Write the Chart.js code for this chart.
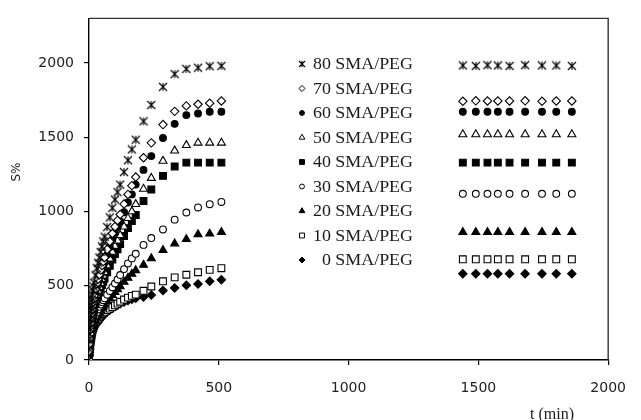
<!DOCTYPE html>
<html>
<head>
<meta charset="utf-8">
<script src="https://cdn.jsdelivr.net/npm/chart.js@4.4.1/dist/chart.umd.min.js"></script>
<style>
  html, body { margin: 0; padding: 0; background: #fff; }
</style>
</head>
<body>
<canvas id="chart" width="641" height="420"></canvas>
<script>
// ── Data ───────────────────────────────────────────────────────────────────
const seriesNames = ['80 SMA/PEG', '70 SMA/PEG', '60 SMA/PEG', '50 SMA/PEG', '40 SMA/PEG',
                     '30 SMA/PEG', '20 SMA/PEG', '10 SMA/PEG', '0 SMA/PEG'];

// early swelling times (min)
const times = [0, 1, 2, 3, 4, 5, 6, 7, 8, 9, 10, 12, 14, 16, 18, 20, 25, 30, 35, 40, 45, 50, 55, 60,
               70, 80, 90, 100, 110, 120, 135, 150, 165, 180, 210, 240, 285, 330, 375, 420, 465, 510];
// equilibrium times (min)
const longTimes = [1440, 1490, 1535, 1575, 1620, 1680, 1745, 1800, 1860];

const s80 = [0, 75, 130, 175, 212, 245, 275, 302, 328, 350, 372, 408, 440, 468, 495, 520, 570, 618, 655, 690, 728, 765, 798, 830,
             895, 960, 1024, 1080, 1130, 1181, 1265, 1345, 1418, 1483, 1607, 1717, 1839, 1925, 1960, 1968, 1978, 1980];
const s70 = [0, 62, 108, 145, 176, 203, 228, 250, 272, 290, 310, 338, 365, 388, 411, 432, 475, 514, 544, 574, 605, 636, 663, 690,
             745, 798, 852, 898, 940, 980, 1050, 1115, 1174, 1232, 1362, 1462, 1585, 1674, 1711, 1722, 1729, 1744];
const s60 = [0, 60, 103, 138, 168, 194, 218, 240, 260, 277, 295, 322, 348, 370, 392, 412, 452, 488, 518, 545, 575, 605, 630, 656,
             708, 760, 810, 853, 895, 935, 995, 1060, 1115, 1181, 1280, 1373, 1495, 1590, 1649, 1660, 1671, 1671];
const s50 = [0, 53, 92, 124, 150, 174, 195, 214, 233, 249, 264, 290, 312, 332, 351, 369, 405, 439, 465, 490, 517, 543, 567, 590,
             636, 682, 727, 767, 803, 840, 898, 955, 1000, 1049, 1152, 1225, 1340, 1409, 1446, 1462, 1462, 1462];
const s40 = [0, 50, 86, 116, 140, 162, 181, 199, 216, 231, 246, 269, 290, 309, 327, 343, 376, 408, 432, 456, 480, 505, 527, 548,
             591, 634, 676, 713, 746, 780, 835, 888, 935, 976, 1071, 1148, 1240, 1303, 1329, 1329, 1329, 1329];
const s30 = [0, 45, 74, 97, 117, 134, 149, 163, 176, 188, 199, 219, 237, 253, 267, 280, 300, 320, 340, 358, 374, 390, 403, 415,
             440, 465, 490, 515, 542, 572, 612, 650, 684, 715, 775, 821, 879, 945, 993, 1027, 1049, 1064];
const s20 = [0, 42, 70, 92, 110, 125, 138, 150, 161, 171, 180, 196, 210, 222, 233, 243, 265, 285, 303, 319, 334, 348, 361, 373,
             395, 415, 436, 456, 476, 496, 526, 553, 580, 604, 640, 684, 740, 784, 813, 846, 850, 861];
const s10 = [0, 48, 80, 104, 122, 137, 150, 161, 171, 180, 188, 202, 214, 225, 235, 241, 254, 267, 279, 290, 300, 309, 317, 324,
             336, 346, 356, 368, 380, 392, 407, 420, 432, 440, 466, 495, 530, 556, 574, 591, 607, 618];
const s0  = [0, 50, 80, 102, 120, 134, 146, 156, 165, 172, 178, 190, 200, 209, 217, 224, 236, 246, 258, 270, 281, 291, 300, 308,
             323, 337, 349, 360, 370, 379, 390, 400, 409, 416, 424, 437, 468, 485, 503, 512, 530, 541];

const l80 = [1983, 1980, 1985, 1983, 1980, 1985, 1983, 1983, 1980];
const l70 = [1742, 1745, 1744, 1744, 1744, 1745, 1742, 1744, 1744];
const l60 = [1671, 1671, 1671, 1671, 1671, 1671, 1671, 1671, 1671];
const l50 = [1519, 1519, 1519, 1519, 1519, 1519, 1519, 1519, 1519];
const l40 = [1329, 1329, 1329, 1329, 1329, 1329, 1329, 1329, 1329];
const l30 = [1119, 1119, 1119, 1119, 1119, 1119, 1119, 1119, 1119];
const l20 = [861, 861, 861, 861, 861, 861, 861, 861, 861];
const l10 = [678, 678, 678, 678, 678, 678, 678, 678, 678];
const l0  = [581, 581, 581, 581, 581, 581, 581, 581, 581];

const earlyValues = [s80, s70, s60, s50, s40, s30, s20, s10, s0];
const longValues  = [l80, l70, l60, l50, l40, l30, l20, l10, l0];

const xTickValues = [0, 500, 1000, 1500, 2000];
const yTickValues = [0, 500, 1000, 1500, 2000];

// ── Marker styles ──────────────────────────────────────────────────────────
function makeStar(r) {
  const c = document.createElement('canvas');
  const s = Math.ceil(2 * r + 2);
  c.width = c.height = s;
  const g = c.getContext('2d');
  const m = s / 2;
  g.strokeStyle = '#000';
  g.lineWidth = 1.1;
  g.beginPath();
  g.moveTo(m - r, m - r); g.lineTo(m + r, m + r);
  g.moveTo(m + r, m - r); g.lineTo(m - r, m + r);
  g.moveTo(m, m - r);     g.lineTo(m, m + r);
  g.stroke();
  return c;
}

const MARKERS = [
  { style: makeStar(4),  legendStyle: makeStar(3), radius: 4,   filled: false },
  { style: 'rectRot',    radius: 4.2, filled: false },
  { style: 'circle',     radius: 3.4, filled: true  },
  { style: 'triangle',   radius: 4.6, filled: false },
  { style: 'rect',       radius: 4.8, filled: true  },
  { style: 'circle',     radius: 3.4, filled: false },
  { style: 'triangle',   radius: 4.6, filled: true  },
  { style: 'rect',       radius: 4.8, filled: false },
  { style: 'rectRot',    radius: 4.2, filled: true  },
];

// ── Datasets ───────────────────────────────────────────────────────────────
const datasets = seriesNames.map((name, i) => {
  const m = MARKERS[i];
  const pts = times.map((t, k) => ({ x: t, y: earlyValues[i][k] }))
    .concat(longTimes.map((t, k) => ({ x: t, y: longValues[i][k] })));
  return {
    label: name,
    data: pts,
    showLine: false,
    pointStyle: m.style,
    pointRadius: m.radius,
    pointBackgroundColor: m.filled ? '#000' : '#fff',
    pointBorderColor: '#000',
    pointBorderWidth: 1.1,
  };
});

// ── Plugins ────────────────────────────────────────────────────────────────
const framePlugin = {
  id: 'frame',
  beforeDatasetsDraw(chart) {
    const { ctx, chartArea: a } = chart;
    ctx.save();
    ctx.strokeStyle = '#333';
    ctx.lineWidth = 1.4;
    ctx.beginPath();
    ctx.moveTo(a.left, a.top);
    ctx.lineTo(a.right, a.top);
    ctx.lineTo(a.right, a.bottom);
    ctx.stroke();
    ctx.restore();
  },
};

const LEGEND_X = 302, LEGEND_TEXT_RIGHT = 413, LEGEND_TOP = 64, LEGEND_STEP = 24.5;

const legendPlugin = {
  id: 'insideLegend',
  afterDatasetsDraw(chart) {
    const ctx = chart.ctx;
    ctx.save();
    seriesNames.forEach((name, i) => {
      const m = MARKERS[i];
      const y = LEGEND_TOP + i * LEGEND_STEP;
      ctx.fillStyle = m.filled ? '#000' : '#fff';
      ctx.strokeStyle = '#000';
      ctx.lineWidth = 1;
      Chart.helpers.drawPoint(ctx, {
        pointStyle: m.legendStyle || m.style,
        radius: m.radius * 0.72,
        rotation: 0,
        borderWidth: 1,
      }, LEGEND_X, y);

      ctx.save();
      ctx.translate(LEGEND_TEXT_RIGHT, y);
      ctx.scale(1.12, 1);
      ctx.fillStyle = '#1a1a1a';
      ctx.font = '16px "Liberation Serif"';
      ctx.textAlign = 'right';
      ctx.textBaseline = 'middle';
      ctx.fillText(name, 0, 1);
      ctx.restore();
    });

    // axis titles
    ctx.fillStyle = '#1a1a1a';
    ctx.font = '16px "Liberation Serif"';
    ctx.textAlign = 'center';
    ctx.textBaseline = 'middle';
    ctx.fillText('t (min)', 552, 415);

    ctx.save();
    ctx.translate(17, 172);
    ctx.rotate(-Math.PI / 2);
    ctx.fillStyle = '#222';
    ctx.font = '12px "DejaVu Sans"';
    ctx.fillText('S%', 0, 0);
    ctx.restore();
    ctx.restore();
  },
};

// ── Chart ──────────────────────────────────────────────────────────────────
const tickFont = { family: '"DejaVu Sans"', size: 14 };
const plainLabel = v => String(v);

new Chart(document.getElementById('chart'), {
  type: 'scatter',
  data: { datasets },
  options: {
    responsive: false,
    animation: false,
    layout: { padding: { top: 13, right: 19, left: 0, bottom: 0 } },
    plugins: {
      legend: { display: false },
      tooltip: { enabled: false },
    },
    scales: {
      x: {
        type: 'linear',
        min: 0,
        max: 2000,
        afterBuildTicks: s => { s.ticks = xTickValues.map(v => ({ value: v })); },
        ticks: { padding: 15, font: tickFont, color: '#222', maxRotation: 0, callback: plainLabel },
        grid: { drawOnChartArea: false, drawTicks: true, tickLength: 5, color: '#000', lineWidth: 1.2 },
        border: { color: '#000', width: 1.4 },
        afterFit: s => { s.height = 60; },
      },
      y: {
        min: 0,
        max: 2300,
        afterBuildTicks: s => { s.ticks = yTickValues.map(v => ({ value: v })); },
        ticks: { padding: 10, font: tickFont, color: '#222', callback: plainLabel },
        grid: { drawOnChartArea: false, drawTicks: true, tickLength: 5, color: '#000', lineWidth: 1.2 },
        border: { color: '#000', width: 1.4 },
        afterFit: s => { s.width = 89; },
      },
    },
  },
  plugins: [framePlugin, legendPlugin],
});
</script>
</body>
</html>
